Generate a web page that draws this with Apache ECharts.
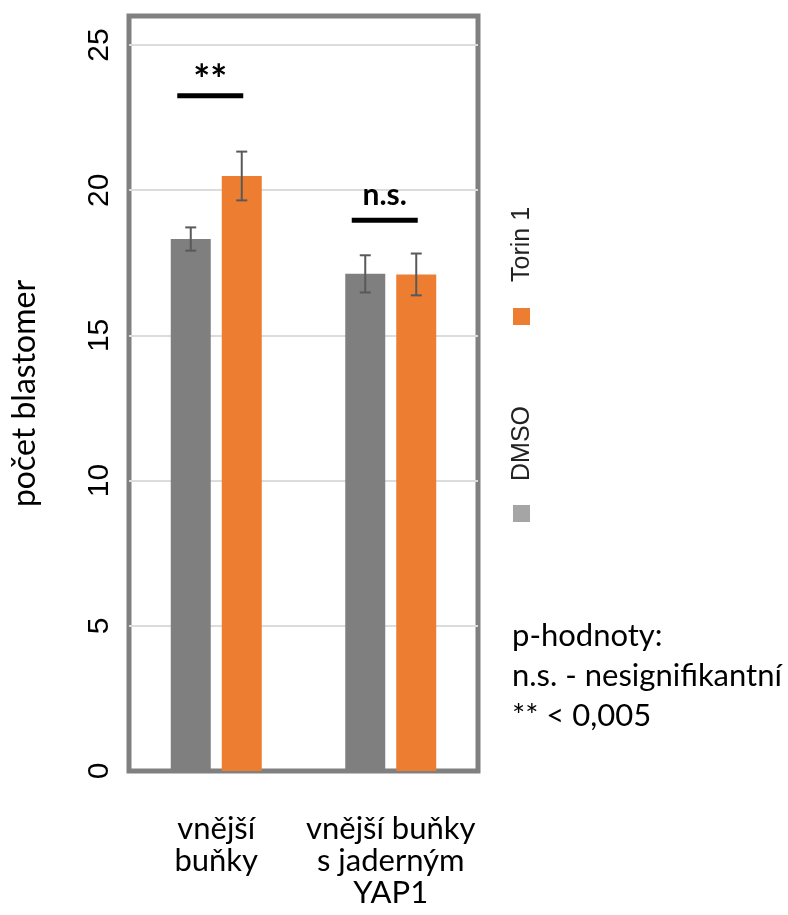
<!DOCTYPE html>
<html>
<head>
<meta charset="utf-8">
<script src="https://cdn.jsdelivr.net/npm/echarts@6/dist/echarts.min.js"></script>
<style>
  html, body { margin: 0; padding: 0; background: #fff; }
  #chart { width: 788px; height: 915px; }
</style>
</head>
<body>
<div id="chart"></div>
<script>
// data
var categories = ['vnější\nbuňky', 'vnější buňky\ns jaderným\nYAP1'];
var seriesNames = ['DMSO', 'Torin 1'];
var dmsoValues = [18.32, 17.12];
var torinValues = [20.49, 17.10];
var dmsoErr = [0.40, 0.64];
var torinErr = [0.84, 0.72];
var sigLabels = ['**', 'n.s.'];
var sigLineLevels = [23.25, 18.97];
var sigTextLevels = [23.75, 19.84];
var yMin = 0, yMax = 26, yInterval = 5;
var pValueNotes = ['p-hodnoty:', 'n.s. - nesignifikantní', '** < 0,005'];

var colors = ['#7f7f7f', '#ed7d31'];
var barWidth = 40, barGapPx = 11;
var barOffset = (barWidth + barGapPx) / 2;

var chart = echarts.init(document.getElementById('chart'));

// error bars, one custom series per bar series
function errorBars(values, errs, offset) {
  var data = values.map(function (v, i) {
    return [i, v - errs[i], v + errs[i]];
  });
  return {
    type: 'custom',
    z: 5,
    silent: true,
    data: data,
    renderItem: function (params, api) {
      var hi = api.coord([api.value(0), api.value(2)]);
      var lo = api.coord([api.value(0), api.value(1)]);
      var x = hi[0] + offset, cap = 5.5;
      var st = { stroke: '#595959', lineWidth: 2 };
      return {
        type: 'group',
        children: [
          { type: 'line', shape: { x1: x, y1: hi[1], x2: x, y2: lo[1] }, style: st },
          { type: 'line', shape: { x1: x - cap, y1: hi[1], x2: x + cap, y2: hi[1] }, style: st },
          { type: 'line', shape: { x1: x - cap, y1: lo[1], x2: x + cap, y2: lo[1] }, style: st }
        ]
      };
    }
  };
}

// significance bars with labels
var sigSeries = {
  type: 'custom',
  z: 5,
  silent: true,
  data: sigLabels.map(function (s, i) { return [i, sigLineLevels[i], sigTextLevels[i]]; }),
  renderItem: function (params, api) {
    var p = api.coord([api.value(0), api.value(1)]);
    var t = api.coord([api.value(0), api.value(2)]);
    var label = sigLabels[params.dataIndex];
    return {
      type: 'group',
      children: [
        { type: 'rect', shape: { x: p[0] - 39, y: p[1] - 2.5, width: 66, height: 5 }, style: { fill: '#000' } },
        {
          type: 'text',
          style: {
            text: label,
            x: t[0] - 6, y: t[1],
            fill: '#000',
            fontSize: label === '**' ? 40 : 30, fontWeight: 'bold', fontFamily: 'Lato',
            align: 'center', verticalAlign: 'middle'
          }
        }
      ]
    };
  }
};

var option = {
  animation: false,
  color: colors,
  grid: {
    left: 129,
    right: 310,
    top: 16,
    bottom: 144,
    show: true,
    borderColor: '#808080',
    borderWidth: 5,
    backgroundColor: 'transparent'
  },
  xAxis: {
    type: 'category',
    data: categories,
    axisLine: { show: false },
    axisTick: { show: false },
    axisLabel: {
      interval: 0,
      margin: 42,
      color: '#000',
      fontFamily: 'Lato',
      fontSize: 31,
      lineHeight: 32
    }
  },
  yAxis: {
    type: 'value',
    min: yMin,
    max: yMax,
    interval: yInterval,
    name: 'počet blastomer',
    nameLocation: 'middle',
    nameRotate: 90,
    nameGap: 88,
    nameTextStyle: { color: '#000', fontFamily: 'Lato', fontSize: 32 },
    axisLine: { show: false },
    axisTick: { show: false },
    axisLabel: {
      rotate: 90,
      margin: 14,
      color: '#000',
      fontFamily: 'Liberation Sans',
      fontSize: 30,
      showMaxLabel: false
    },
    splitLine: {
      showMaxLine: false,
      showMinLine: false,
      lineStyle: { color: '#dcdcdc', width: 2 }
    }
  },
  series: [
    { name: seriesNames[0], type: 'bar', data: dmsoValues, barWidth: barWidth, barGap: (barGapPx / barWidth * 100) + '%', itemStyle: { color: colors[0] } },
    { name: seriesNames[1], type: 'bar', data: torinValues, barWidth: barWidth, itemStyle: { color: colors[1] } },
    errorBars(dmsoValues, dmsoErr, -barOffset),
    errorBars(torinValues, torinErr, barOffset),
    sigSeries
  ],
  graphic: [
    // rotated legend
    { type: 'rect', shape: { x: 513, y: 505, width: 17, height: 17 }, style: { fill: '#a5a5a5' } },
    { type: 'text', x: 522, y: 481, rotation: Math.PI / 2,
      style: { text: seriesNames[0], fill: '#222', fontFamily: 'Liberation Sans', fontSize: 25, align: 'left', verticalAlign: 'middle' } },
    { type: 'rect', shape: { x: 513, y: 308, width: 17, height: 17 }, style: { fill: colors[1] } },
    { type: 'text', x: 522, y: 282, rotation: Math.PI / 2,
      style: { text: seriesNames[1], fill: '#222', fontFamily: 'Liberation Sans', fontSize: 25, align: 'left', verticalAlign: 'middle' } },
    // p-value notes
    { type: 'text', left: 512, top: 616,
      style: { text: pValueNotes.join('\n'), fill: '#000', fontFamily: 'Lato', fontSize: 31, lineHeight: 40 } }
  ]
};

chart.setOption(option);
</script>
</body>
</html>
